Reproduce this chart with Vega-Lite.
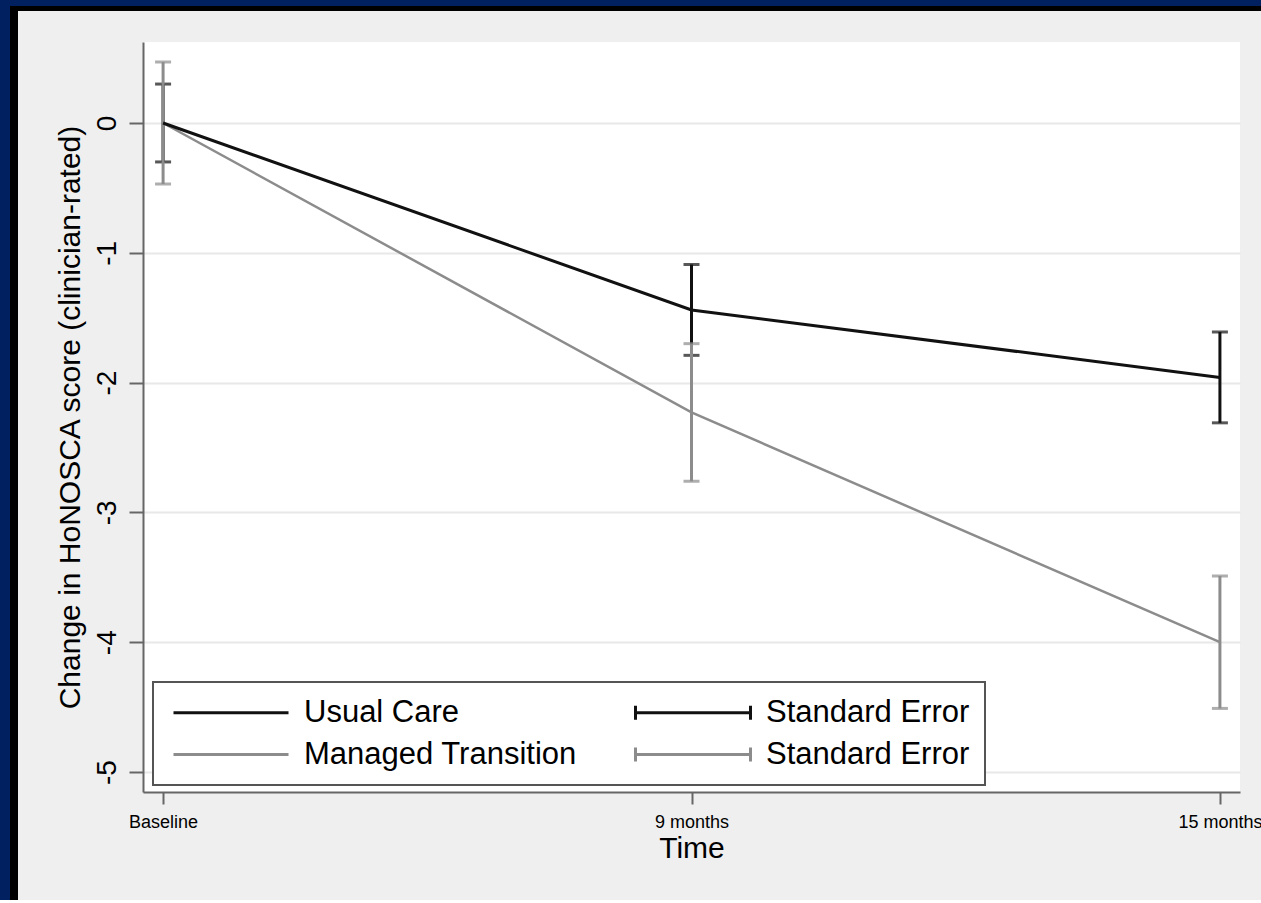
{
  "$schema": "https://vega.github.io/schema/vega-lite/v6.json",
  "background": "#efefef",
  "padding": 0,
  "config": {
    "view": {"stroke": null},
    "font": "Liberation Sans"
  },
  "spacing": 0,
  "bounds": "flush",
  "vconcat": [
    {"data": {"values": []}, "mark": "rect", "width": 1261, "height": 3, "view": {"fill": "#002060"}},
    {
      "spacing": 0,
      "bounds": "flush",
      "hconcat": [
        {"data": {"values": []}, "mark": "rect", "width": 10, "height": 897, "view": {"fill": "#002060"}},
        {"data": {"values": []}, "mark": "rect", "width": 8, "height": 897, "view": {"fill": "#000000"}},
        {
          "spacing": 31,
          "bounds": "flush",
          "vconcat": [
            {"data": {"values": []}, "mark": "rect", "width": 1243, "height": 8, "view": {"fill": "#000000"}},
            {
              "spacing": 0,
              "bounds": "flush",
              "hconcat": [
                {"data": {"values": []}, "mark": "rect", "width": 125, "height": 1},
                {
                  "width": 1097,
                  "height": 750,
                  "view": {"fill": "white", "stroke": null},
                  "data": {
                    "values": [
                      {"group": "Usual Care", "bar": "Usual Care SE", "time": "Baseline", "mean": 0, "se": 0.30},
                      {"group": "Usual Care", "bar": "Usual Care SE", "time": "9 months", "mean": -1.44, "se": 0.35},
                      {"group": "Usual Care", "bar": "Usual Care SE", "time": "15 months", "mean": -1.96, "se": 0.35},
                      {"group": "Managed Transition", "bar": "Managed Transition SE", "time": "Baseline", "mean": 0, "se": 0.47},
                      {"group": "Managed Transition", "bar": "Managed Transition SE", "time": "9 months", "mean": -2.23, "se": 0.53},
                      {"group": "Managed Transition", "bar": "Managed Transition SE", "time": "15 months", "mean": -4.00, "se": 0.51}
                    ]
                  },
                  "encoding": {
                    "x": {
                      "field": "time",
                      "type": "ordinal",
                      "title": "Time",
                      "scale": {"type": "point", "domain": ["Baseline", "9 months", "15 months"], "padding": 0.038},
                      "axis": {
                        "labelAngle": 0,
                        "labelFontSize": 18,
                        "labelColor": "#000000",
                        "labelPadding": 9,
                        "labelOverlap": false,
                        "labelBound": false,
                        "tickSize": 12,
                        "tickWidth": 2,
                        "tickColor": "#666666",
                        "domainColor": "#666666",
                        "domainWidth": 2,
                        "grid": false,
                        "titleFontSize": 30,
                        "titleFontWeight": "normal",
                        "titleColor": "#000000",
                        "titlePadding": 2
                      }
                    },
                    "y": {
                      "field": "mean",
                      "type": "quantitative",
                      "title": "Change in HoNOSCA score (clinician-rated)",
                      "scale": {"domain": [-5.154, 0.624], "nice": false, "zero": false},
                      "axis": {
                        "values": [-5, -4, -3, -2, -1, 0],
                        "labelExpr": "toString(datum.value)",
                        "labelAngle": -90,
                        "labelAlign": "center",
                        "labelBaseline": "bottom",
                        "labelFontSize": 28,
                        "labelColor": "#000000",
                        "labelPadding": 8,
                        "tickSize": 14,
                        "tickWidth": 2,
                        "tickColor": "#666666",
                        "domainColor": "#666666",
                        "domainWidth": 2,
                        "grid": true,
                        "gridColor": "#e8e8e8",
                        "gridWidth": 2,
                        "titleFontSize": 30,
                        "titleFontWeight": "normal",
                        "titleColor": "#000000",
                        "titlePadding": 8
                      }
                    }
                  },
                  "layer": [
                    {
                      "transform": [{"filter": "datum.group == 'Usual Care'"}],
                      "mark": {"type": "errorbar", "ticks": true, "size": 16, "thickness": 3},
                      "encoding": {
                        "yError": {"field": "se"},
                        "color": {
                          "field": "bar",
                          "type": "nominal",
                          "scale": {
                            "domain": ["Usual Care", "Managed Transition", "Usual Care SE", "Managed Transition SE"],
                            "range": ["#111111", "#8c8c8c", "#111111", "#8c8c8c"]
                          },
                          "legend": {
                            "title": null,
                            "orient": "none",
                            "legendX": 153,
                            "legendY": 682,
                            "columns": 2,
                            "columnPadding": 52,
                            "rowPadding": 10,
                            "symbolSize": 400,
                            "symbolStrokeWidth": 3,
                            "labelFontSize": 31,
                            "labelColor": "#000000",
                            "labelOffset": 105,
                            "labelLimit": 400,
                            "padding": 15,
                            "strokeColor": "#555555",
                            "fillColor": "white",
                            "labelExpr": "indexof(datum.label, ' SE') > 0 ? 'Standard Error' : datum.label",
                            "encode": {
                              "symbols": {
                                "update": {
                                  "shape": {"signal": "indexof(datum.value, ' SE') > 0 ? 'M-1,-0.7V0.7M-1,0H10.5M10.5,-0.7V0.7' : 'M-1,0H10.5'"},
                                  "fill": {"value": "transparent"},
                                  "strokeWidth": {"value": 3}
                                }
                              },
                              "legend": {"update": {"strokeWidth": {"value": 2}}}
                            }
                          }
                        }
                      }
                    },
                    {
                      "transform": [{"filter": "datum.group == 'Managed Transition'"}],
                      "mark": {"type": "errorbar", "ticks": true, "size": 16, "thickness": 3},
                      "encoding": {
                        "yError": {"field": "se"},
                        "color": {"field": "bar", "type": "nominal"}
                      }
                    },
                    {
                      "transform": [{"filter": "datum.group == 'Managed Transition'"}],
                      "mark": {"type": "line", "strokeWidth": 2.5},
                      "encoding": {
                        "color": {"field": "group", "type": "nominal"}
                      }
                    },
                    {
                      "transform": [{"filter": "datum.group == 'Usual Care'"}],
                      "mark": {"type": "line", "strokeWidth": 3},
                      "encoding": {
                        "color": {"field": "group", "type": "nominal"}
                      }
                    }
                  ]
                }
              ]
            }
          ]
        }
      ]
    },
    {"data": {"values": []}, "mark": "rect", "width": 1261, "height": 3, "view": {"fill": "#002060"}}
  ]
}
